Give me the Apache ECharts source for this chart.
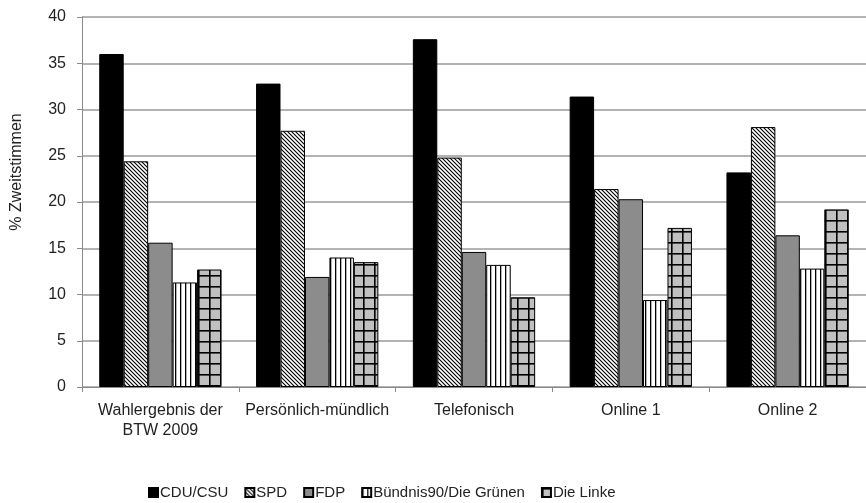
<!DOCTYPE html>
<html>
<head>
<meta charset="utf-8">
<script src="https://cdn.jsdelivr.net/npm/echarts@6/dist/echarts.min.js"></script>
<style>
html,body{margin:0;padding:0;background:#fff;}
#chart{width:866px;height:503px;}
</style>
</head>
<body>
<div id="chart"></div>
<script>
const categories = ['Wahlergebnis der\nBTW 2009', 'Persönlich-mündlich', 'Telefonisch', 'Online 1', 'Online 2'];
const seriesNames = ['CDU/CSU', 'SPD', 'FDP', 'Bündnis90/Die Grünen', 'Die Linke'];
const cduCsu = [36.0, 32.8, 37.6, 31.4, 23.2];
const spd = [24.4, 27.7, 24.8, 21.4, 28.1];
const fdp = [15.6, 11.9, 14.6, 20.3, 16.4];
const gruene = [11.3, 14.0, 13.2, 9.4, 12.8];
const linke = [12.7, 13.5, 9.7, 17.2, 19.2];
const yTicks = [0, 5, 10, 15, 20, 25, 30, 35, 40];

function tile(w, h, draw) {
  const c = document.createElement('canvas');
  c.width = w; c.height = h;
  const ctx = c.getContext('2d');
  draw(ctx, w, h);
  return c;
}
const diag = tile(4, 4, (ctx, w, h) => {
  ctx.fillStyle = '#fff'; ctx.fillRect(0, 0, w, h);
  ctx.strokeStyle = '#000'; ctx.lineWidth = 1.1;
  ctx.beginPath();
  ctx.moveTo(-1, -1); ctx.lineTo(w + 1, h + 1);
  ctx.moveTo(-1, h - 1); ctx.lineTo(1, h + 1);
  ctx.moveTo(w - 1, -1); ctx.lineTo(w + 1, 1);
  ctx.stroke();
});
const vert = tile(5, 5, (ctx, w, h) => {
  ctx.fillStyle = '#fff'; ctx.fillRect(0, 0, w, h);
  ctx.fillStyle = '#000'; ctx.fillRect(0, 0, 1.3, h);
});
const grid = tile(11, 11, (ctx, w, h) => {
  ctx.fillStyle = '#c0c0c0'; ctx.fillRect(0, 0, w, h);
  ctx.fillStyle = '#000';
  ctx.fillRect(0, 0, w, 1.6);
  ctx.fillRect(0, 0, 1.6, h);
});

const fills = [
  '#000000',
  { image: diag, repeat: 'repeat' },
  '#8c8c8c',
  { image: vert, repeat: 'repeat' },
  { image: grid, repeat: 'repeat' }
];
const dataSets = [cduCsu, spd, fdp, gruene, linke];

const chart = echarts.init(document.getElementById('chart'));
chart.setOption({
  animation: false,
  backgroundColor: '#fff',
  textStyle: { fontFamily: 'Liberation Sans, Arial, sans-serif', color: '#222' },
  grid: { left: 82, right: 0, top: 17, bottom: 116 },
  legend: {
    top: 480,
    left: 143,
    icon: 'rect',
    itemWidth: 9,
    itemHeight: 9,
    itemGap: 16,
    textStyle: { fontSize: 15, color: '#222', padding: [0, 0, 0, -3] },
    data: seriesNames
  },
  xAxis: {
    type: 'category',
    data: categories,
    axisLine: { lineStyle: { color: '#8a8a8a', width: 1 } },
    axisTick: { show: true, length: 5, lineStyle: { color: '#8a8a8a' } },
    axisLabel: { fontSize: 16, color: '#222', margin: 14, lineHeight: 20, interval: 0 }
  },
  yAxis: {
    type: 'value',
    min: 0,
    max: 40,
    interval: 5,
    name: '% Zweitstimmen',
    nameLocation: 'middle',
    nameGap: 57,
    nameTextStyle: { fontSize: 16, color: '#222', padding: [0, 0, 0, 60] },
    axisLine: { show: true, lineStyle: { color: '#8a8a8a', width: 1 } },
    axisTick: { show: true, length: 5, lineStyle: { color: '#8a8a8a' } },
    axisLabel: { fontSize: 16, color: '#222', margin: 16 },
    splitLine: { lineStyle: { color: '#9a9a9a', width: 1.5 } }
  },
  series: seriesNames.map((name, i) => ({
    name: name,
    type: 'bar',
    data: dataSets[i],
    barGap: '0%',
    barCategoryGap: '22%',
    itemStyle: { color: fills[i], borderColor: '#000', borderWidth: 1 }
  }))
});
</script>
</body>
</html>
